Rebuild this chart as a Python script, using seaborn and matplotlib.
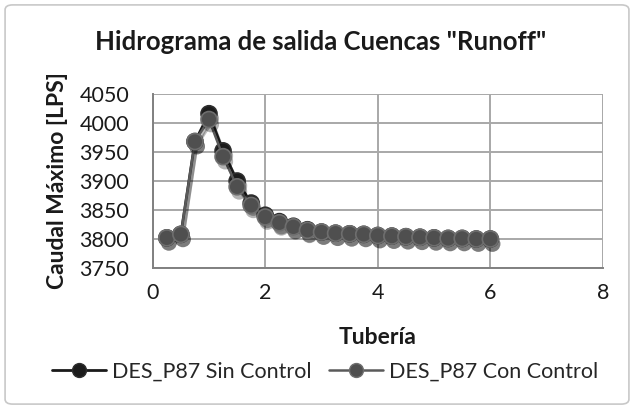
import matplotlib
matplotlib.use("Agg")
import matplotlib.pyplot as plt
import matplotlib.patheffects as pe
from matplotlib.patches import FancyBboxPatch
from matplotlib.lines import Line2D
import seaborn as sns
import pandas as pd

tuberia = [0.25, 0.5, 0.75, 1.0, 1.25, 1.5, 1.75, 2.0, 2.25, 2.5, 2.75, 3.0,
           3.25, 3.5, 3.75, 4.0, 4.25, 4.5, 4.75, 5.0, 5.25, 5.5, 5.75, 6.0]
sin_control = [3802, 3808, 3968, 4016, 3952, 3900, 3862, 3841, 3830, 3822, 3816, 3812,
               3810, 3809, 3808, 3806, 3805, 3804, 3803, 3802, 3801, 3801, 3800, 3800]
con_control = [3802, 3808, 3968, 4006, 3942, 3890, 3858, 3838, 3828, 3821, 3815, 3812,
               3810, 3809, 3808, 3806, 3805, 3804, 3803, 3802, 3801, 3801, 3800, 3800]
series_names = ["DES_P87 Sin Control", "DES_P87 Con Control"]
xticks = [0, 2, 4, 6, 8]
yticks = [3750, 3800, 3850, 3900, 3950, 4000, 4050]

sns.set_theme(style="white")
plt.rcParams["font.family"] = ["Lato", "DejaVu Sans"]

fig = plt.figure(figsize=(6.34, 4.09), dpi=100)
fig.patches.append(FancyBboxPatch((0.008, 0.012), 0.984, 0.976,
                                  boxstyle="round,pad=0,rounding_size=0.012",
                                  transform=fig.transFigure, fill=False,
                                  edgecolor="#c8c8c8", linewidth=1.2))
ax = fig.add_axes([0.2409, 0.3447, 0.710, 0.4255])

df = pd.DataFrame({"x": tuberia * 2,
                   "y": sin_control + con_control,
                   "serie": [series_names[0]] * len(tuberia) + [series_names[1]] * len(tuberia)})

styles = {
    series_names[0]: dict(line="#1a1a1a", face="#1c1c1c", edge="#2e2e2e", lw=2.0),
    series_names[1]: dict(line="#5a5a5a", face="#4f4f4f", edge="#6e6e6e", lw=1.8),
}
line_shadow = [pe.SimpleLineShadow(offset=(1.5, -3), shadow_color="#000000", alpha=0.25), pe.Normal()]
marker_shadow = [pe.SimplePatchShadow(offset=(1.5, -3.5), shadow_rgbFace="#000000", alpha=0.3), pe.Normal()]
handles = []
for name in series_names:
    st = styles[name]
    sub = df[df["serie"] == name]
    sns.lineplot(data=sub, x="x", y="y", ax=ax, color=st["line"], linewidth=st["lw"],
                 legend=False, path_effects=line_shadow)
    sns.lineplot(data=sub, x="x", y="y", ax=ax, linestyle="", marker="o", markersize=11.5,
                 markerfacecolor=st["face"], markeredgecolor=st["edge"], markeredgewidth=1.2,
                 legend=False, path_effects=marker_shadow)
    handles.append(Line2D([], [], color=st["line"], linewidth=st["lw"], marker="o",
                          markersize=10, markerfacecolor=st["face"],
                          markeredgecolor=st["edge"], label=name))

ax.set_xlim(0, 8)
ax.set_ylim(3750, 4050)
ax.set_xticks(xticks)
ax.set_yticks(yticks)
ax.tick_params(axis="both", labelsize=15.5, colors="#1a1a1a", length=0)
ax.tick_params(axis="y", pad=17)
ax.tick_params(axis="x", pad=11)
ax.grid(True, color="#a8a8a8", linewidth=1.4)
ax.set_axisbelow(True)
for s in ["top", "right"]:
    ax.spines[s].set_visible(False)
for s in ["left", "bottom"]:
    ax.spines[s].set_color("#808080")
    ax.spines[s].set_linewidth(1.4)

ax.set_xlabel("Tubería", fontsize=16.5, fontweight="bold", color="#1a1a1a")
ax.xaxis.label.set_va("center")
ax.xaxis.set_label_coords(0.5, -0.402)
ax.set_ylabel("Caudal Máximo [LPS]", fontsize=16.5, fontweight="bold", color="#1a1a1a")
ax.yaxis.label.set_va("center")
ax.yaxis.set_label_coords(-0.2105, 0.5)

fig.text(0.506, 0.897, 'Hidrograma de salida Cuencas "Runoff"', fontsize=18.5,
         fontweight="bold", ha="center", va="center", color="#1a1a1a")

fig.legend(handles=handles, loc="center", bbox_to_anchor=(0.5126, 0.0905), ncol=2,
           frameon=False, fontsize=15.5, handlelength=2.5, handletextpad=0.3,
           columnspacing=0.8, borderaxespad=0)

fig.savefig("out.png", dpi=100)
